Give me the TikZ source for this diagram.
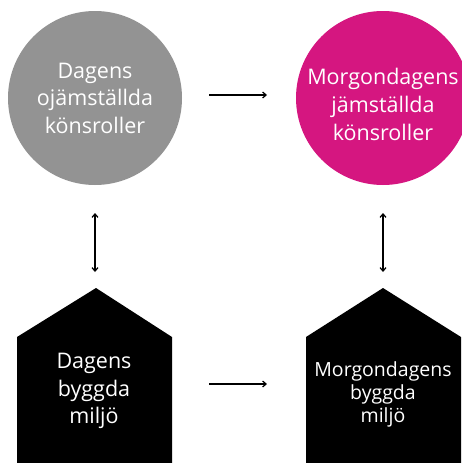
\documentclass[tikz,border=0pt]{standalone}
\usepackage{fontspec}
\setmainfont{Open Sans}
\usetikzlibrary{arrows.meta}
\definecolor{grayc}{HTML}{939393}
\definecolor{magc}{HTML}{D51680}
\tikzset{
  bubble/.style={circle, minimum size=174pt, inner sep=0pt, text=white, align=center, font=\fontsize{21.5}{27.5}\selectfont},
  bubbletext/.style={text=white, align=center, inner sep=0pt, font=\fontsize{21.5}{28}\selectfont},
  housetext/.style={text=white, align=center, inner sep=0pt},
  conn/.style={line width=1.2pt, -{Straight Barb[length=3.5pt,width=6pt]}},
  bconn/.style={line width=1.2pt, {Straight Barb[length=3.5pt,width=6pt]}-{Straight Barb[length=3.5pt,width=6pt]}},
  house/.style={fill=black, draw=none}
}
\begin{document}
\begin{tikzpicture}[x=1pt,y=-1pt]
\useasboundingbox (0,0) rectangle (461,463);
\node[bubble, fill=grayc] (c1) at (95,98) {Dagens\\ojämställda\\könsroller};
\node[bubble, fill=magc] (c2) at (383,98) {};
\node[bubbletext] (t2) at (383,104) {Morgondagens\\jämställda\\könsroller};
\fill[house] (17,470) -- (17,337) -- (96,288) -- (172,337) -- (172,470) -- cycle;
\fill[house] (306,470) -- (306,337) -- (383,288) -- (461,337) -- (461,470) -- cycle;
\node[housetext, font=\fontsize{21.5}{27.5}\selectfont] (h1) at (94,391) {Dagens\\byggda\\miljö};
\node[housetext, font=\fontsize{19.5}{23}\selectfont] (h2) at (383,394) {Morgondagens\\byggda\\miljö};
\coordinate (a1s) at (209,95);
\coordinate (a1e) at (267,95);
\coordinate (a2s) at (209,384);
\coordinate (a2e) at (267,384);
\coordinate (v1s) at (95,213);
\coordinate (v1e) at (95,272);
\coordinate (v2s) at (383,213);
\coordinate (v2e) at (383,272);
\draw[conn] (a1s) -- (a1e);
\draw[conn] (a2s) -- (a2e);
\draw[bconn] (v1s) -- (v1e);
\draw[bconn] (v2s) -- (v2e);
\end{tikzpicture}
\end{document}
